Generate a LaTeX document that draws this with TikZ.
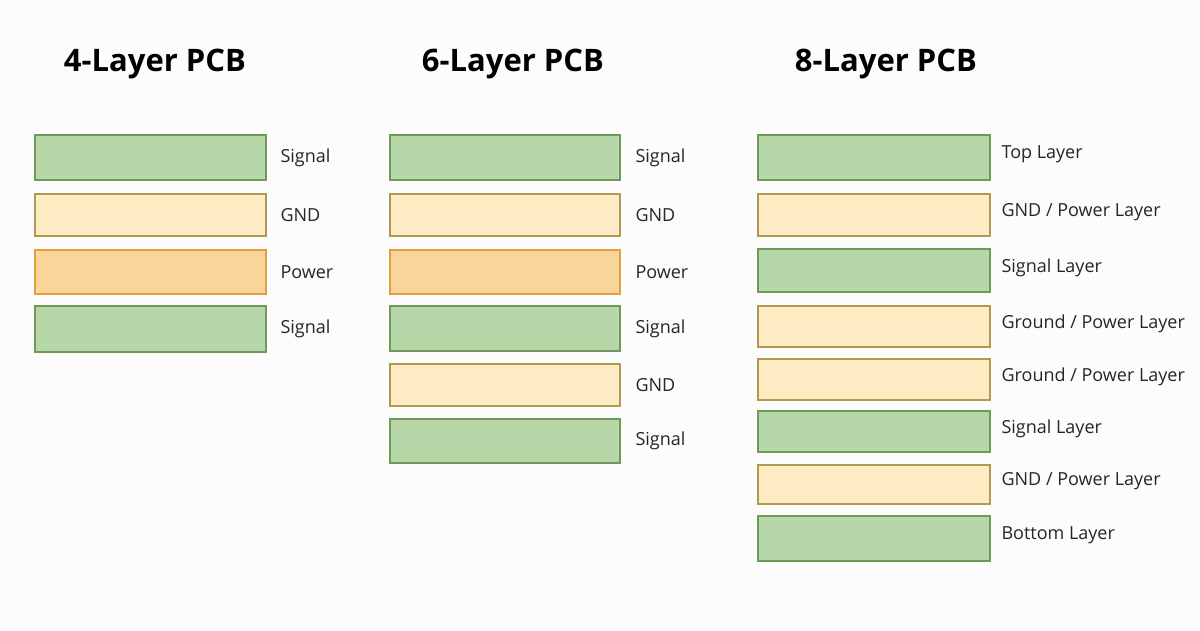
\documentclass[tikz,border=0pt]{standalone}
\usepackage{fontspec}
\setmainfont{Open Sans}
\begin{document}
\begin{tikzpicture}[x=1pt,y=-1pt,
 lab/.style={anchor=west,font=\fontsize{18}{21}\selectfont,text=black!85},
 ttl/.style={font=\fontsize{31}{35}\selectfont\bfseries}]
\definecolor{sigf}{HTML}{B8D7A8}\definecolor{sigd}{HTML}{6E9A5A}
\definecolor{gndf}{HTML}{FCEBC3}\definecolor{gndd}{HTML}{B09A50}
\definecolor{pwrf}{HTML}{F9D599}\definecolor{pwrd}{HTML}{E0A040}
\tikzset{sig/.style={draw=sigd,fill=sigf,line width=1.2pt},
 gnd/.style={draw=gndd,fill=gndf,line width=1.2pt},
 pwr/.style={draw=pwrd,fill=pwrf,line width=1.2pt}}
\fill[white!99!black] (0,0) rectangle (1200,630);
\useasboundingbox (0,0) rectangle (1200,630);
\node[ttl] (t4) at (155,64) {4-Layer PCB};
\node[ttl] (t6) at (513,64) {6-Layer PCB};
\node[ttl] (t8) at (886,64) {8-Layer PCB};
% 4-layer
\foreach \s/\a/\b/\t [count=\i] in {sig/135/180/Signal,gnd/194/236/GND,pwr/250/294/Power,sig/306/352/Signal}{
 \draw[\s] (35,\a) rectangle (266,\b);
 \node[lab] (l4\i) at (277,{(\a+\b)/2}) {\t};}
% 6-layer
\foreach \s/\a/\b/\t [count=\i] in {sig/135/180/Signal,gnd/194/236/GND,pwr/250/294/Power,sig/306/351/Signal,gnd/364/406/GND,sig/419/463/Signal}{
 \draw[\s] (390,\a) rectangle (620,\b);
 \node[lab] (l6\i) at (632,{(\a+\b)/2}) {\t};}
% 8-layer
\foreach \s/\a/\b/\t [count=\i] in {sig/135/180/{Top Layer},gnd/194/236/{GND / Power Layer},sig/249/292/{Signal Layer},gnd/306/347/{Ground / Power Layer},gnd/359/400/{Ground / Power Layer},sig/411/452/{Signal Layer},gnd/465/504/{GND / Power Layer},sig/516/561/{Bottom Layer}}{
 \draw[\s] (758,\a) rectangle (990,\b);
 \node[lab] (l8\i) at (998,{(\a+\b)/2-3}) {\t};}
\end{tikzpicture}
\end{document}
